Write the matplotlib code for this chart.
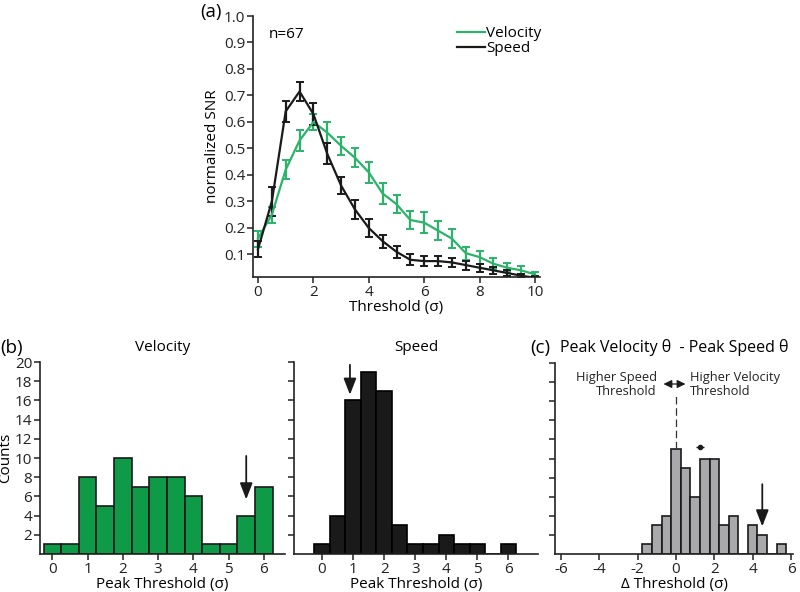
import numpy as np
import matplotlib
matplotlib.use("Agg")
import matplotlib.pyplot as plt

plt.rcParams['font.family'] = ['Open Sans', 'DejaVu Sans']
plt.rcParams['font.size'] = 11

# ---- Panel (a) data ----
thresh = np.arange(0, 10.01, 0.5)
vel_mean = [0.16, 0.25, 0.42, 0.53, 0.60, 0.56, 0.51, 0.465, 0.41, 0.33, 0.29,
            0.23, 0.22, 0.19, 0.16, 0.105, 0.09, 0.065, 0.05, 0.04, 0.025]
vel_err = [0.03, 0.03, 0.035, 0.04, 0.03, 0.04, 0.035, 0.035, 0.04, 0.04, 0.035,
           0.035, 0.04, 0.035, 0.035, 0.025, 0.025, 0.02, 0.018, 0.015, 0.008]
spd_mean = [0.12, 0.30, 0.64, 0.715, 0.63, 0.48, 0.36, 0.27, 0.20, 0.15, 0.11,
            0.08, 0.075, 0.075, 0.07, 0.06, 0.05, 0.04, 0.03, 0.02, 0.012]
spd_err = [0.03, 0.055, 0.04, 0.035, 0.04, 0.04, 0.033, 0.035, 0.033, 0.025, 0.023,
           0.02, 0.018, 0.018, 0.018, 0.017, 0.015, 0.013, 0.01, 0.007, 0.005]

# ---- Panel (b) data ----
peak_bins = np.arange(0, 6.01, 0.5)
vel_counts = [1, 1, 8, 5, 10, 7, 8, 8, 6, 1, 1, 4, 7]
spd_counts = [1, 4, 16, 19, 17, 3, 1, 1, 2, 1, 1, 0, 1]

# ---- Panel (c) data ----
delta_bins = np.arange(-1.5, 5.51, 0.5)
delta_counts = [1, 3, 4, 11, 9, 6, 10, 10, 3, 4, 0, 3, 2, 0, 1]
delta_mean = 1.25
delta_sem = 0.2

GREEN_LINE = '#2bb36a'
GREEN_BAR = '#0f9a48'
GRAY_BAR = '#a9a9ab'
BLACK = '#1a1a1a'
FS = 11

fig = plt.figure(figsize=(8, 5.92), dpi=100)
W, H = 800, 592

def add_ax(x0, x1, ytop, ybot):
    return fig.add_axes([x0 / W, 1 - ybot / H, (x1 - x0) / W, (ybot - ytop) / H])

def style(ax):
    for s in ['top', 'right']:
        ax.spines[s].set_visible(False)
    for s in ['left', 'bottom']:
        ax.spines[s].set_linewidth(1.2)
        ax.spines[s].set_color('#222222')
    ax.tick_params(direction='out', length=4, width=1.1, colors='#222222',
                   labelsize=FS, pad=1.5)

# Panel (a)
ax = add_ax(253, 540, 16, 277)
style(ax)
ax.errorbar(thresh, vel_mean, yerr=vel_err, color=GREEN_LINE, lw=1.6,
            capsize=3, elinewidth=1.6, capthick=1.4, label='Velocity')
ax.errorbar(thresh, spd_mean, yerr=spd_err, color=BLACK, lw=1.6,
            capsize=3, elinewidth=1.6, capthick=1.4, label='Speed')
ax.set_xlim(-0.18, 10.18)
ax.set_ylim(0.015, 1.0)
ax.set_yticks(np.round(np.arange(0.1, 1.01, 0.1), 1))
ax.set_yticklabels([f'{v:.1f}' for v in np.arange(0.1, 1.01, 0.1)])
ax.set_xticks([0, 2, 4, 6, 8, 10])
ax.set_xlabel('Threshold (σ)', fontsize=FS, labelpad=0)
ax.set_ylabel('normalized SNR', fontsize=FS, labelpad=3)
ax.text(0.4, 0.93, 'n=67', fontsize=FS, va='center')
handles, labels = ax.get_legend_handles_labels()
handles = [h[0] for h in handles]
ax.legend(handles, labels, loc='upper left', bbox_to_anchor=(0.69, 0.985), frameon=False,
          fontsize=FS, handlelength=1.8, handletextpad=0.1, borderaxespad=0,
          labelspacing=0.0)
fig.text(200 / W, 1 - 12 / H, '(a)', fontsize=13.5, va='center')

# Panel (b) Velocity
axv = add_ax(40, 285, 362, 554)
style(axv)
axv.bar(peak_bins, vel_counts, width=0.5, color=GREEN_BAR, edgecolor=BLACK, lw=1.2)
axv.set_xlim(-0.35, 6.6)
axv.set_ylim(0, 20)
axv.set_yticks(np.arange(2, 21, 2))
axv.set_xticks(range(0, 7))
axv.set_xlabel('Peak Threshold (σ)', fontsize=FS, labelpad=0)
axv.set_ylabel('Counts', fontsize=FS, labelpad=1)
axv.set_title('Velocity', fontsize=FS, pad=8)
axv.annotate('', xy=(5.5, 5.4), xytext=(5.5, 10.5),
             arrowprops=dict(arrowstyle='-|>,head_length=0.9,head_width=0.35',
                             color=BLACK, lw=1.3))
fig.text(0 / W, 1 - 348 / H, '(b)', fontsize=13.5, va='center')

# Panel (b) Speed
axs = add_ax(294, 538, 362, 554)
style(axs)
axs.bar(peak_bins, spd_counts, width=0.5, color=BLACK, edgecolor='#000000', lw=1.2)
axs.set_xlim(-0.9, 6.95)
axs.set_ylim(0, 20)
axs.set_yticks(np.arange(2, 21, 2))
axs.set_yticklabels([])
axs.set_xticks(range(0, 7))
axs.set_xlabel('Peak Threshold (σ)', fontsize=FS, labelpad=0)
axs.set_title('Speed', fontsize=FS, pad=8)
axs.annotate('', xy=(0.9, 16.3), xytext=(0.9, 20.0),
             arrowprops=dict(arrowstyle='-|>,head_length=0.9,head_width=0.35',
                             color=BLACK, lw=1.3))

# Panel (c)
axc = add_ax(555, 793, 363, 554)
style(axc)
axc.bar(delta_bins, delta_counts, width=0.5, color=GRAY_BAR, edgecolor=BLACK, lw=1.2)
axc.set_xlim(-6.3, 6.1)
axc.set_ylim(0, 20)
axc.set_yticks(np.arange(2, 21, 2))
axc.set_yticklabels([])
axc.set_xticks([-6, -4, -2, 0, 2, 4, 6])
axc.set_xticklabels(['-6', '-4', '-2', '0', '2', '4', '6'])
axc.set_xlabel('Δ Threshold (σ)', fontsize=FS, labelpad=0)
axc.set_title('Peak Velocity θ  - Peak Speed θ', fontsize=11.5, pad=8)
axc.plot([0, 0], [11, 16.5], ls=(0, (6, 3)), color='#333333', lw=0.9)
axc.annotate('', xy=(-0.65, 17.8), xytext=(0.5, 17.8),
             arrowprops=dict(arrowstyle='<|-|>,head_length=0.45,head_width=0.22',
                             color=BLACK, lw=0.9, shrinkA=0, shrinkB=0))
axc.text(-1.0, 17.8, 'Higher Speed\nThreshold', ha='right', va='center',
         fontsize=9.3, linespacing=1.1, color='#222222')
axc.text(0.75, 17.8, 'Higher Velocity\nThreshold', ha='left', va='center',
         fontsize=9.3, linespacing=1.1, color='#222222')
axc.errorbar([delta_mean], [11.2], xerr=[delta_sem], fmt='o', color=BLACK,
             ms=3, capsize=0, elinewidth=1.0)
axc.annotate('', xy=(4.5, 2.6), xytext=(4.5, 7.6),
             arrowprops=dict(arrowstyle='-|>,head_length=0.9,head_width=0.35',
                             color=BLACK, lw=1.3))
fig.text(530 / W, 1 - 348 / H, '(c)', fontsize=13.5, va='center')

fig.savefig('out.png', dpi=100)
